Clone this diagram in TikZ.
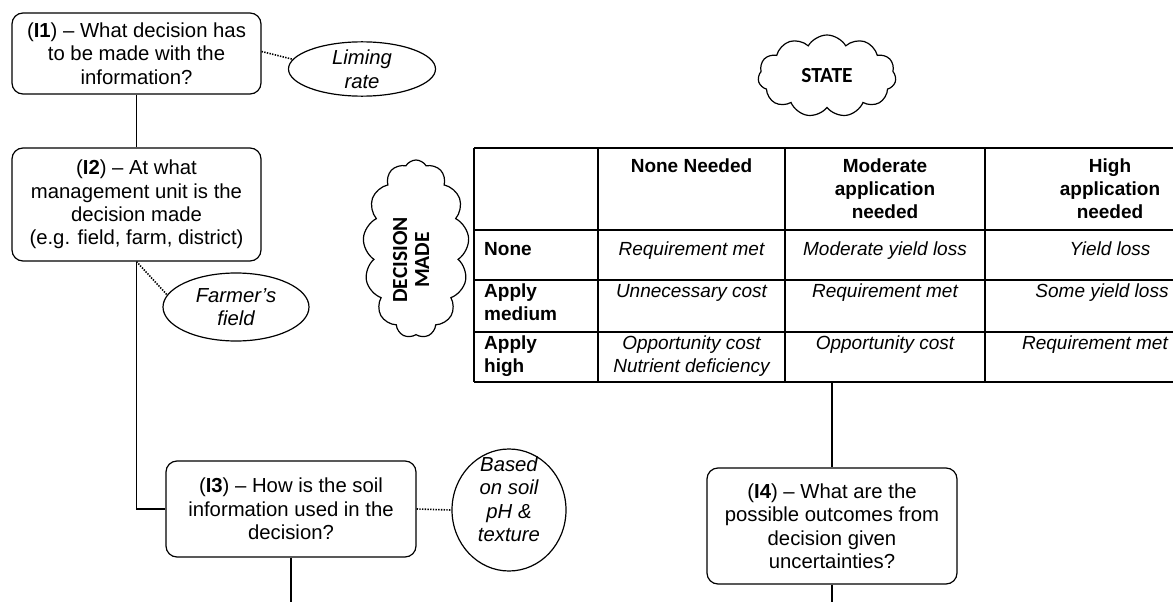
\documentclass[tikz,border=0pt]{standalone}
\usepackage{fontspec}
\setmainfont{Liberation Sans}
\newfontfamily\calfont{Carlito}
\usetikzlibrary{shapes.geometric,shapes.symbols}
\begin{document}
\begin{tikzpicture}[x=1pt,y=-1pt,
  qbox/.style={draw, rounded corners=11pt, line width=1.2pt, align=center, inner sep=0pt, font=\fontsize{20.3}{23.5}\selectfont},
  oval/.style={draw, ellipse, line width=1.2pt, align=center, inner sep=0pt, font=\fontsize{20.3}{23.5}\selectfont\itshape},
  cloudy/.style={draw, cloud, cloud puff arc=120, cloud ignores aspect, line width=1.2pt, align=center, inner sep=0pt, font=\fontsize{21.5}{23}\selectfont\calfont\bfseries},
  cloudtext/.style={align=center, inner sep=0pt, font=\fontsize{21.5}{22}\selectfont\calfont\bfseries},
  conn/.style={line width=1.9pt},
  dotconn/.style={line width=1.6pt, dash pattern=on 1.4pt off 1.3pt},
  tline/.style={line width=1.3pt},
  hd/.style={font=\fontsize{19}{23}\selectfont\bfseries, align=center, anchor=north, inner sep=0pt},
  cell/.style={font=\fontsize{19}{23}\selectfont\itshape, align=center, anchor=north, inner sep=0pt},
  rowhd/.style={font=\fontsize{19}{23}\selectfont\bfseries, align=left, anchor=north west, inner sep=0pt},
]
\useasboundingbox (0,0) rectangle (1173,602);
\fill[white] (0,0) rectangle (1173,602);
\clip (0,0) rectangle (1173,602);

% question boxes
\node[qbox, minimum width=249, minimum height=81] (i1) at (136.5,53.5)
  {(\textbf{I1}) \textendash{} What decision has\\to be made with the\\information?};
\node[qbox, minimum width=249, minimum height=113] (i2) at (136.5,204.5)
  {(\textbf{I2}) \textendash{} At what\\management unit is the\\decision made\\(e.g. field, farm, district)};
\node[qbox, minimum width=250, minimum height=96] (i3) at (291,509)
  {(\textbf{I3}) \textendash{} How is the soil\\information used in the\\decision?};
\node[qbox, minimum width=250, minimum height=116] (i4) at (832,526)
  {(\textbf{I4}) \textendash{} What are the\\possible outcomes from\\decision given\\uncertainties?};

% answer ellipses
\node[oval, minimum width=147, minimum height=53] (lim) at (362,69) {Liming\\rate};
\node[oval, minimum width=146, minimum height=68] (far) at (236,307) {Farmer’s\\field};
\node[oval, minimum width=114, minimum height=122] (bas) at (509,510) {};
\node[oval, anchor=center] (bastext) at (509,499) [draw=none] {Based\\on soil\\pH \&\\texture};

% clouds
\node[cloudy, cloud puffs=11, minimum width=138, minimum height=82] (state) at (827,76) {STATE};
\node[cloudy, cloud puffs=13, minimum width=106, minimum height=178] (dec) at (416,249) {};
\node[cloudtext, rotate=90] (dectext) at (411,260) {DECISION\\MADE};

% table
\coordinate (tb) at (832,382);
\foreach \yy in {148,230,280,332,382} \draw[tline] (474,\yy) -- (1190,\yy);
\foreach \xx in {474,598,785,985} \draw[tline] (\xx,148) -- (\xx,382);

\node[hd] (h1) at (691.5,159) {None Needed};
\node[hd] (h2) at (885,159) {Moderate\\application\\needed};
\node[hd] (h3) at (1110,159) {High\\application\\needed};

\node[rowhd] (r1) at (484,242) {None};
\node[rowhd] (r2) at (484,284) {Apply\\medium};
\node[rowhd] (r3) at (484,336) {Apply\\high};

\node[cell] (c11) at (691.5,242) {Requirement met};
\node[cell] (c12) at (885,242) {Moderate yield loss};
\node[cell] (c13) at (1110,242) {Yield loss};
\node[cell] (c21) at (691.5,284) {Unnecessary cost};
\node[cell] (c22) at (885,284) {Requirement met};
\node[cell] (c23) at (1102,284) {Some yield loss};
\node[cell] (c31) at (691.5,336) {Opportunity cost\\Nutrient deficiency};
\node[cell] (c32) at (885,336) {Opportunity cost};
\node[cell] (c33) at (1095,336) {Requirement met};

% connectors
\coordinate (i3end) at (291,602);
\coordinate (i4end) at (832,602);
\draw[conn] (i1.south) -- (i2.north);
\draw[conn] (i2.south) |- (i3.west);
\draw[conn] (i3.south) -- (i3end);
\draw[conn] (tb) -- (i4.north);
\draw[conn] (i4.south) -- (i4end);

\draw[dotconn] (i1.east) ++(0,-2) -- (lim.172);
\draw[dotconn] (i2.south) -- (far.170);
\draw[dotconn] (i3.east) -- (bas.west);
\end{tikzpicture}
\end{document}
